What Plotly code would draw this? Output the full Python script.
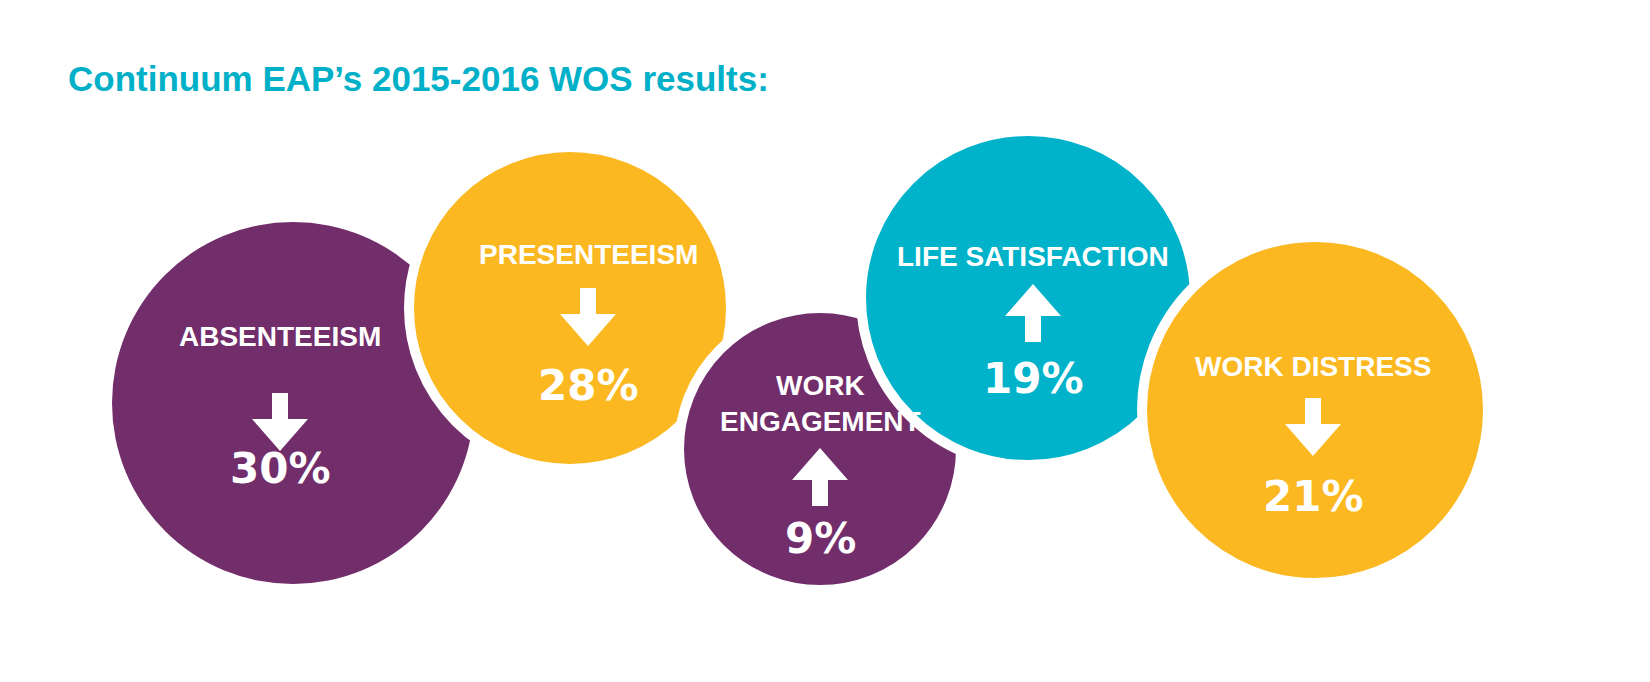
import plotly.graph_objects as go

# data
labels = ["ABSENTEEISM", "PRESENTEEISM", "WORK<br>ENGAGEMENT", "LIFE SATISFACTION", "WORK DISTRESS"]
changes = ["30%", "28%", "9%", "19%", "21%"]
directions = ["down", "down", "up", "up", "down"]
colors = ["#722D6B", "#FBB821", "#722D6B", "#00B2CA", "#FBB821"]

# layout (pixel coords): cx, cy, r, label y, arrow top y, value y, text x
circles = [
    (285, 395, 181, 328, 385, 460, 272),
    (562, 300, 161, 246, 280, 377, 580),
    (812, 441, 141, 395, 440, 530, 812),
    (1020, 290, 167, 248, 276, 370, 1025),
    (1307, 402, 173, 358, 390, 488, 1305),
]

def arrow_path(x, y, up):
    h, hw, sw, head = 58, 28, 8, 32
    if up:
        pts = [(x, y), (x + hw, y + head), (x + sw, y + head), (x + sw, y + h),
               (x - sw, y + h), (x - sw, y + head), (x - hw, y + head)]
    else:
        pts = [(x - sw, y), (x + sw, y), (x + sw, y + h - head), (x + hw, y + h - head),
               (x, y + h), (x - hw, y + h - head), (x - sw, y + h - head)]
    return "M" + " L".join(f"{a},{b}" for a, b in pts) + " Z"

shapes, annotations = [], []
for i, (cx, cy, r, ly, ay, vy, tx) in enumerate(circles):
    shapes.append(dict(type="circle", x0=cx - r, x1=cx + r, y0=cy - r, y1=cy + r,
                       fillcolor=colors[i], line=dict(color="white", width=0 if i == 0 else 10),
                       layer="above"))
for i, (cx, cy, r, ly, ay, vy, tx) in enumerate(circles):
    shapes.append(dict(type="path", path=arrow_path(tx, ay, directions[i] == "up"),
                       fillcolor="white", line=dict(width=0), layer="above"))
    annotations.append(dict(x=tx, y=ly, text=f"<b>{labels[i]}</b>", showarrow=False,
                            font=dict(color="white", size=28, family="Liberation Sans"),
                            yanchor="middle"))
    annotations.append(dict(x=tx, y=vy, text=f"<b>{changes[i]}</b>", showarrow=False,
                            font=dict(color="white", size=42, family="DejaVu Sans"),
                            yanchor="middle"))

annotations.append(dict(x=58, y=70, xanchor="left", yanchor="middle", showarrow=False,
                        text="<b>Continuum EAP’s 2015-2016 WOS results:</b>",
                        font=dict(color="#00B0C8", size=35, family="Liberation Sans")))

fig = go.Figure()
fig.update_layout(
    width=1650, height=682, margin=dict(l=0, r=0, t=0, b=0),
    paper_bgcolor="white", plot_bgcolor="white",
    xaxis=dict(range=[0, 1650], visible=False, fixedrange=True),
    yaxis=dict(range=[682, 0], visible=False, fixedrange=True),
    shapes=shapes, annotations=annotations, showlegend=False,
)
fig.write_html("out.html")
